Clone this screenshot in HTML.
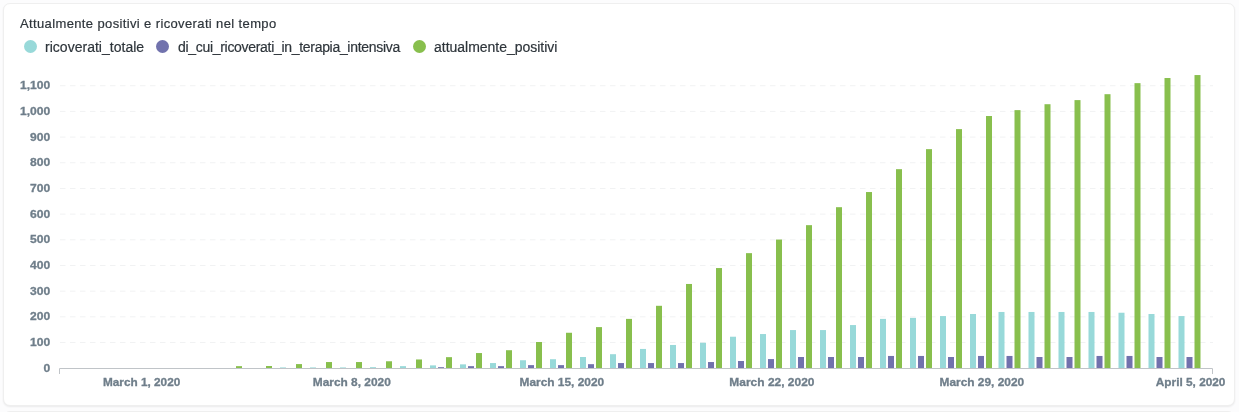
<!DOCTYPE html>
<html><head><meta charset="utf-8"><title>Attualmente positivi e ricoverati nel tempo</title>
<style>
html,body{margin:0;padding:0;width:1239px;height:412px;overflow:hidden;}
#root{position:absolute;left:0;top:0;width:1239px;height:412px;overflow:hidden;}
body{width:1239px;height:412px;overflow:hidden;background:#fcfcfd;font-family:"Liberation Sans",sans-serif;position:relative;}
.card{position:absolute;left:2.9px;top:2.7px;width:1230.5px;height:401px;background:#fff;border:1px solid #efefef;border-radius:7px;box-shadow:0 1px 2px rgba(0,0,0,0.07);}
.card2{position:absolute;left:2.9px;top:410.7px;width:1230.5px;height:30px;background:#fff;border:1px solid #efefef;border-radius:7px;}
.title,.leg{-webkit-text-stroke:0.2px #2e353b;will-change:transform;}
svg text{will-change:transform;}
.title{position:absolute;left:20.3px;top:13.8px;letter-spacing:0.37px;font-size:13px;line-height:20px;color:#2e353b;white-space:nowrap;}
.leg{position:absolute;top:37px;font-size:14px;line-height:20px;color:#2e353b;white-space:nowrap;}
.dot{position:absolute;top:39.9px;width:13px;height:13px;border-radius:50%;}
svg{position:absolute;left:0;top:0;}
.grid line{stroke:#f1f2f3;stroke-width:1;stroke-dasharray:5.5,4.5;}
.ax text{font-family:"Liberation Sans",sans-serif;font-weight:bold;font-size:11px;fill:#6f7e8a;stroke:#6f7e8a;stroke-width:0.3px;}
</style></head><body>
<div id="root">
<div class="card"></div><div class="card2"></div>
<div class="title" id="title">Attualmente positivi e ricoverati nel tempo</div>
<div class="dot" style="left:23.9px;background:#98D9D9"></div>
<div class="leg" id="l1" style="left:44.9px;letter-spacing:0.02px">ricoverati_totale</div>
<div class="dot" style="left:156px;background:#7172AD"></div>
<div class="leg" id="l2" style="left:177.6px;letter-spacing:-0.305px">di_cui_ricoverati_in_terapia_intensiva</div>
<div class="dot" style="left:413px;background:#88BF4D"></div>
<div class="leg" id="l3" style="left:433.7px;letter-spacing:-0.02px">attualmente_positivi</div>
<svg width="1239" height="412" viewBox="0 0 1239 412">
<g class="grid"><line x1="60" x2="1213" y1="342.52" y2="342.52"/><line x1="60" x2="1213" y1="316.84" y2="316.84"/><line x1="60" x2="1213" y1="291.16" y2="291.16"/><line x1="60" x2="1213" y1="265.48" y2="265.48"/><line x1="60" x2="1213" y1="239.80" y2="239.80"/><line x1="60" x2="1213" y1="214.12" y2="214.12"/><line x1="60" x2="1213" y1="188.44" y2="188.44"/><line x1="60" x2="1213" y1="162.76" y2="162.76"/><line x1="60" x2="1213" y1="137.08" y2="137.08"/><line x1="60" x2="1213" y1="111.40" y2="111.40"/><line x1="60" x2="1213" y1="85.72" y2="85.72"/></g>
<g class="bars"><rect x="236.00" y="366.15" width="6" height="1.85" fill="#88BF4D"/><rect x="266.00" y="366.02" width="6" height="1.98" fill="#88BF4D"/><rect x="280.00" y="367.43" width="6" height="0.57" fill="#98D9D9"/><rect x="296.00" y="364.09" width="6" height="3.91" fill="#88BF4D"/><rect x="310.00" y="367.43" width="6" height="0.57" fill="#98D9D9"/><rect x="326.00" y="362.04" width="6" height="5.96" fill="#88BF4D"/><rect x="340.00" y="367.43" width="6" height="0.57" fill="#98D9D9"/><rect x="356.00" y="362.04" width="6" height="5.96" fill="#88BF4D"/><rect x="370.00" y="367.17" width="6" height="0.83" fill="#98D9D9"/><rect x="386.00" y="361.27" width="6" height="6.73" fill="#88BF4D"/><rect x="400.00" y="366.15" width="6" height="1.85" fill="#98D9D9"/><rect x="416.00" y="359.47" width="6" height="8.53" fill="#88BF4D"/><rect x="430.00" y="365.38" width="6" height="2.62" fill="#98D9D9"/><rect x="438.00" y="367.17" width="6" height="0.83" fill="#7172AD"/><rect x="446.00" y="357.16" width="6" height="10.84" fill="#88BF4D"/><rect x="460.00" y="364.35" width="6" height="3.65" fill="#98D9D9"/><rect x="468.00" y="366.15" width="6" height="1.85" fill="#7172AD"/><rect x="476.00" y="353.05" width="6" height="14.95" fill="#88BF4D"/><rect x="490.00" y="363.06" width="6" height="4.94" fill="#98D9D9"/><rect x="498.00" y="366.15" width="6" height="1.85" fill="#7172AD"/><rect x="506.00" y="350.22" width="6" height="17.78" fill="#88BF4D"/><rect x="520.00" y="360.24" width="6" height="7.76" fill="#98D9D9"/><rect x="528.00" y="365.12" width="6" height="2.88" fill="#7172AD"/><rect x="536.00" y="342.01" width="6" height="25.99" fill="#88BF4D"/><rect x="550.00" y="359.21" width="6" height="8.79" fill="#98D9D9"/><rect x="558.00" y="365.12" width="6" height="2.88" fill="#7172AD"/><rect x="566.00" y="332.76" width="6" height="35.24" fill="#88BF4D"/><rect x="580.00" y="357.00" width="6" height="11.00" fill="#98D9D9"/><rect x="588.00" y="364.17" width="6" height="3.83" fill="#7172AD"/><rect x="596.00" y="327.11" width="6" height="40.89" fill="#88BF4D"/><rect x="610.00" y="354.20" width="6" height="13.80" fill="#98D9D9"/><rect x="618.00" y="363.06" width="6" height="4.94" fill="#7172AD"/><rect x="626.00" y="318.89" width="6" height="49.11" fill="#88BF4D"/><rect x="640.00" y="348.94" width="6" height="19.06" fill="#98D9D9"/><rect x="648.00" y="363.06" width="6" height="4.94" fill="#7172AD"/><rect x="656.00" y="305.80" width="6" height="62.20" fill="#88BF4D"/><rect x="670.00" y="344.96" width="6" height="23.04" fill="#98D9D9"/><rect x="678.00" y="363.06" width="6" height="4.94" fill="#7172AD"/><rect x="686.00" y="283.97" width="6" height="84.03" fill="#88BF4D"/><rect x="700.00" y="342.78" width="6" height="25.22" fill="#98D9D9"/><rect x="708.00" y="362.04" width="6" height="5.96" fill="#7172AD"/><rect x="716.00" y="268.05" width="6" height="99.95" fill="#88BF4D"/><rect x="730.00" y="336.72" width="6" height="31.28" fill="#98D9D9"/><rect x="738.00" y="361.01" width="6" height="6.99" fill="#7172AD"/><rect x="746.00" y="253.15" width="6" height="114.85" fill="#88BF4D"/><rect x="760.00" y="334.05" width="6" height="33.95" fill="#98D9D9"/><rect x="768.00" y="359.08" width="6" height="8.92" fill="#7172AD"/><rect x="776.00" y="239.54" width="6" height="128.46" fill="#88BF4D"/><rect x="790.00" y="330.07" width="6" height="37.93" fill="#98D9D9"/><rect x="798.00" y="357.00" width="6" height="11.00" fill="#7172AD"/><rect x="806.00" y="225.16" width="6" height="142.84" fill="#88BF4D"/><rect x="820.00" y="330.07" width="6" height="37.93" fill="#98D9D9"/><rect x="828.00" y="357.00" width="6" height="11.00" fill="#7172AD"/><rect x="836.00" y="207.19" width="6" height="160.81" fill="#88BF4D"/><rect x="850.00" y="325.06" width="6" height="42.94" fill="#98D9D9"/><rect x="858.00" y="357.00" width="6" height="11.00" fill="#7172AD"/><rect x="866.00" y="192.04" width="6" height="175.96" fill="#88BF4D"/><rect x="880.00" y="318.89" width="6" height="49.11" fill="#98D9D9"/><rect x="888.00" y="355.95" width="6" height="12.05" fill="#7172AD"/><rect x="896.00" y="169.18" width="6" height="198.82" fill="#88BF4D"/><rect x="910.00" y="317.87" width="6" height="50.13" fill="#98D9D9"/><rect x="918.00" y="355.95" width="6" height="12.05" fill="#7172AD"/><rect x="926.00" y="149.15" width="6" height="218.85" fill="#88BF4D"/><rect x="940.00" y="316.07" width="6" height="51.93" fill="#98D9D9"/><rect x="948.00" y="357.00" width="6" height="11.00" fill="#7172AD"/><rect x="956.00" y="129.12" width="6" height="238.88" fill="#88BF4D"/><rect x="970.00" y="314.02" width="6" height="53.98" fill="#98D9D9"/><rect x="978.00" y="355.95" width="6" height="12.05" fill="#7172AD"/><rect x="986.00" y="116.02" width="6" height="251.98" fill="#88BF4D"/><rect x="998.50" y="311.96" width="6" height="56.04" fill="#98D9D9"/><rect x="1006.50" y="355.95" width="6" height="12.05" fill="#7172AD"/><rect x="1014.50" y="110.12" width="6" height="257.88" fill="#88BF4D"/><rect x="1028.50" y="311.96" width="6" height="56.04" fill="#98D9D9"/><rect x="1036.50" y="357.00" width="6" height="11.00" fill="#7172AD"/><rect x="1044.50" y="104.21" width="6" height="263.79" fill="#88BF4D"/><rect x="1058.50" y="311.96" width="6" height="56.04" fill="#98D9D9"/><rect x="1066.50" y="357.00" width="6" height="11.00" fill="#7172AD"/><rect x="1074.50" y="100.10" width="6" height="267.90" fill="#88BF4D"/><rect x="1088.50" y="311.96" width="6" height="56.04" fill="#98D9D9"/><rect x="1096.50" y="355.95" width="6" height="12.05" fill="#7172AD"/><rect x="1104.50" y="94.19" width="6" height="273.81" fill="#88BF4D"/><rect x="1118.50" y="312.73" width="6" height="55.27" fill="#98D9D9"/><rect x="1126.50" y="355.95" width="6" height="12.05" fill="#7172AD"/><rect x="1134.50" y="83.15" width="6" height="284.85" fill="#88BF4D"/><rect x="1148.50" y="314.02" width="6" height="53.98" fill="#98D9D9"/><rect x="1156.50" y="357.00" width="6" height="11.00" fill="#7172AD"/><rect x="1164.50" y="78.02" width="6" height="289.98" fill="#88BF4D"/><rect x="1178.50" y="316.07" width="6" height="51.93" fill="#98D9D9"/><rect x="1186.50" y="357.00" width="6" height="11.00" fill="#7172AD"/><rect x="1194.50" y="75.06" width="6" height="292.94" fill="#88BF4D"/></g>
<path d="M59.5,374V368.5H1212.5V374" fill="none" stroke="#c0c4c8" stroke-width="1"/>
<g class="ax yl"><text x="50.2" y="371.70" text-anchor="end" textLength="6.72" lengthAdjust="spacingAndGlyphs">0</text><text x="50.2" y="346.02" text-anchor="end" textLength="20.16" lengthAdjust="spacingAndGlyphs">100</text><text x="50.2" y="320.34" text-anchor="end" textLength="20.16" lengthAdjust="spacingAndGlyphs">200</text><text x="50.2" y="294.66" text-anchor="end" textLength="20.16" lengthAdjust="spacingAndGlyphs">300</text><text x="50.2" y="268.98" text-anchor="end" textLength="20.16" lengthAdjust="spacingAndGlyphs">400</text><text x="50.2" y="243.30" text-anchor="end" textLength="20.16" lengthAdjust="spacingAndGlyphs">500</text><text x="50.2" y="217.62" text-anchor="end" textLength="20.16" lengthAdjust="spacingAndGlyphs">600</text><text x="50.2" y="191.94" text-anchor="end" textLength="20.16" lengthAdjust="spacingAndGlyphs">700</text><text x="50.2" y="166.26" text-anchor="end" textLength="20.16" lengthAdjust="spacingAndGlyphs">800</text><text x="50.2" y="140.58" text-anchor="end" textLength="20.16" lengthAdjust="spacingAndGlyphs">900</text><text x="50.2" y="114.90" text-anchor="end" textLength="30.18" lengthAdjust="spacingAndGlyphs">1,000</text><text x="50.2" y="89.22" text-anchor="end" textLength="30.18" lengthAdjust="spacingAndGlyphs">1,100</text></g>
<g class="ax xl"><text x="141.60" y="385.8" text-anchor="middle" textLength="77.30" lengthAdjust="spacingAndGlyphs">March 1, 2020</text><text x="351.80" y="385.8" text-anchor="middle" textLength="77.90" lengthAdjust="spacingAndGlyphs">March 8, 2020</text><text x="561.85" y="385.8" text-anchor="middle" textLength="84.60" lengthAdjust="spacingAndGlyphs">March 15, 2020</text><text x="771.90" y="385.8" text-anchor="middle" textLength="85.10" lengthAdjust="spacingAndGlyphs">March 22, 2020</text><text x="981.85" y="385.8" text-anchor="middle" textLength="84.60" lengthAdjust="spacingAndGlyphs">March 29, 2020</text><text x="1190.65" y="385.8" text-anchor="middle" textLength="69.60" lengthAdjust="spacingAndGlyphs">April 5, 2020</text></g>
</svg>
</div>
</body></html>
